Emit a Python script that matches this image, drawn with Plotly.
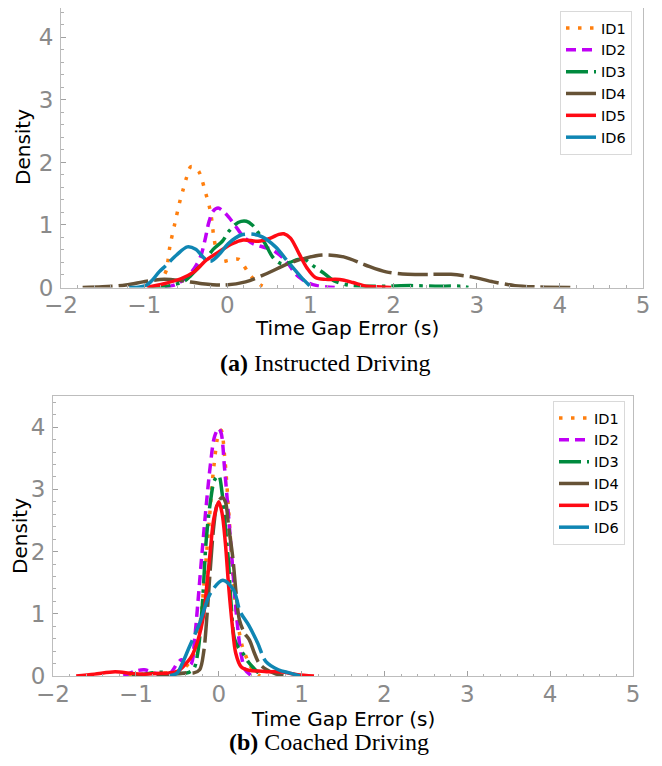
import plotly.graph_objects as go

# ---------------- data ----------------
x_tick_vals = [-2, -1, 0, 1, 2, 3, 4, 5]
y_tick_vals = [0, 1, 2, 3, 4]
series_names = ["ID1", "ID2", "ID3", "ID4", "ID5", "ID6"]
panel_captions = ["<b>(a)</b> Instructed Driving", "<b>(b)</b> Coached Driving"]
x_label = "Time Gap Error (s)"
y_label = "Density"

# (a) Instructed driving  -- KDE curves
inst_id1_x = [-0.75, -0.73, -0.69, -0.63, -0.57, -0.53, -0.49, -0.44, -0.39, -0.34, -0.30, -0.26, -0.22, -0.19, -0.16, -0.12, -0.06, 0.0, 0.06, 0.14, 0.20, 0.26, 0.32, 0.40, 0.46]
inst_id1_y = [0.22, 0.29, 0.66, 1.03, 1.38, 1.57, 1.76, 1.93, 1.92, 1.85, 1.70, 1.51, 1.32, 1.11, 0.79, 0.55, 0.42, 0.43, 0.45, 0.45, 0.35, 0.22, 0.13, 0.04, 0.0]
inst_id2_x = [-0.75, -0.62, -0.50, -0.40, -0.32, -0.27, -0.22, -0.17, -0.11, -0.05, 0.02, 0.10, 0.17, 0.24, 0.31, 0.38, 0.45, 0.52, 0.60, 0.68, 0.75, 0.82, 0.90, 0.98, 1.08, 1.20, 1.32]
inst_id2_y = [0.0, 0.05, 0.15, 0.30, 0.50, 0.75, 1.05, 1.22, 1.27, 1.22, 1.12, 0.98, 0.85, 0.76, 0.70, 0.67, 0.64, 0.62, 0.55, 0.46, 0.35, 0.22, 0.13, 0.07, 0.03, 0.01, 0.0]
inst_id3_x = [-0.95, -0.80, -0.65, -0.52, -0.44, -0.36, -0.27, -0.17, -0.06, 0.02, 0.13, 0.23, 0.30, 0.36, 0.46, 0.55, 0.65, 0.75, 0.85, 0.93, 1.03, 1.15, 1.28, 1.45, 1.66, 1.90, 2.20, 2.50, 2.80, 2.90]
inst_id3_y = [0.0, 0.01, 0.04, 0.10, 0.19, 0.30, 0.43, 0.61, 0.74, 0.90, 1.04, 1.06, 1.00, 0.90, 0.69, 0.48, 0.38, 0.40, 0.45, 0.45, 0.35, 0.24, 0.11, 0.04, 0.02, 0.02, 0.03, 0.02, 0.02, 0.0]
inst_id4_x = [-1.74, -1.50, -1.22, -0.97, -0.76, -0.56, -0.30, -0.04, 0.22, 0.47, 0.73, 0.94, 1.14, 1.40, 1.66, 1.91, 2.17, 2.43, 2.69, 2.94, 3.20, 3.46, 3.72, 4.18]
inst_id4_y = [0.0, 0.01, 0.04, 0.10, 0.13, 0.11, 0.06, 0.04, 0.09, 0.22, 0.38, 0.47, 0.52, 0.49, 0.36, 0.25, 0.21, 0.21, 0.21, 0.17, 0.09, 0.03, 0.01, 0.0]
inst_id5_x = [-0.97, -0.76, -0.56, -0.40, -0.25, -0.09, 0.06, 0.19, 0.37, 0.52, 0.62, 0.68, 0.76, 0.86, 0.96, 1.06, 1.18, 1.30, 1.39, 1.51, 1.67, 1.80, 1.97]
inst_id5_y = [0.0, 0.06, 0.14, 0.25, 0.44, 0.58, 0.70, 0.76, 0.74, 0.79, 0.85, 0.86, 0.79, 0.55, 0.31, 0.16, 0.13, 0.13, 0.12, 0.08, 0.02, 0.01, 0.0]
inst_id6_x = [-1.18, -1.05, -0.97, -0.90, -0.82, -0.74, -0.61, -0.48, -0.38, -0.27, -0.20, -0.09, 0.01, 0.165, 0.32, 0.42, 0.58, 0.73, 0.885, 0.99]
inst_id6_y = [0.0, 0.01, 0.04, 0.12, 0.25, 0.35, 0.52, 0.65, 0.61, 0.46, 0.42, 0.54, 0.70, 0.84, 0.85, 0.81, 0.65, 0.41, 0.17, 0.03]

# (b) Coached driving
coach_id1_x = [-1.10, -0.90, -0.75, -0.60, -0.45, -0.35, -0.28, -0.22, -0.17, -0.12, -0.06, 0.0, 0.03, 0.07, 0.12, 0.17, 0.22, 0.28, 0.35, 0.42, 0.50]
coach_id1_y = [0.0, 0.03, 0.05, 0.05, 0.10, 0.22, 0.45, 0.90, 1.60, 2.40, 3.35, 3.90, 3.95, 3.55, 2.65, 1.65, 0.95, 0.50, 0.25, 0.08, 0.0]
coach_id2_x = [-1.15, -1.00, -0.90, -0.75, -0.60, -0.50, -0.45, -0.38, -0.33, -0.29, -0.25, -0.20, -0.15, -0.10, -0.05, 0.0, 0.03, 0.07, 0.12, 0.17, 0.22, 0.27, 0.32, 0.40]
coach_id2_y = [0.0, 0.08, 0.10, 0.04, 0.03, 0.20, 0.26, 0.15, 0.20, 0.60, 1.20, 2.00, 2.75, 3.40, 3.85, 3.98, 3.90, 3.35, 2.55, 1.70, 0.90, 0.35, 0.10, 0.0]
coach_id3_x = [-1.05, -0.90, -0.70, -0.50, -0.38, -0.30, -0.25, -0.20, -0.15, -0.10, -0.05, 0.0, 0.04, 0.08, 0.12, 0.15, 0.19, 0.24, 0.30, 0.36, 0.42, 0.48]
coach_id3_y = [0.0, 0.03, 0.06, 0.04, 0.05, 0.12, 0.40, 1.10, 2.20, 2.80, 3.15, 3.22, 2.95, 2.40, 1.80, 1.15, 0.60, 0.45, 0.35, 0.22, 0.13, 0.05]
coach_id4_x = [-0.75, -0.55, -0.40, -0.30, -0.23, -0.18, -0.14, -0.10, -0.06, -0.02, 0.04, 0.08, 0.12, 0.17, 0.21, 0.25, 0.31, 0.37, 0.43, 0.49, 0.58, 0.68, 0.78]
coach_id4_y = [0.0, 0.03, 0.05, 0.05, 0.10, 0.40, 1.00, 1.75, 2.40, 2.75, 2.87, 2.80, 2.40, 1.90, 1.33, 0.90, 0.69, 0.58, 0.37, 0.20, 0.10, 0.04, 0.0]
coach_id5_x = [-1.72, -1.50, -1.25, -1.05, -0.90, -0.75, -0.60, -0.50, -0.43, -0.33, -0.25, -0.185, -0.145, -0.10, -0.06, 0.0, 0.04, 0.08, 0.12, 0.165, 0.205, 0.27, 0.37, 0.48, 0.58, 0.70, 0.80, 0.95, 1.15]
coach_id5_y = [0.0, 0.03, 0.07, 0.04, 0.03, 0.04, 0.05, 0.07, 0.15, 0.31, 0.58, 0.96, 1.44, 2.03, 2.52, 2.80, 2.62, 2.14, 1.44, 0.80, 0.37, 0.15, 0.09, 0.08, 0.07, 0.07, 0.06, 0.02, 0.0]
coach_id6_x = [-0.60, -0.50, -0.44, -0.36, -0.23, -0.10, 0.05, 0.18, 0.26, 0.36, 0.47, 0.57, 0.72, 0.85, 0.98]
coach_id6_y = [0.0, 0.05, 0.20, 0.45, 0.85, 1.33, 1.54, 1.38, 1.03, 0.82, 0.53, 0.23, 0.10, 0.05, 0.0]

instructed = [(inst_id1_x, inst_id1_y), (inst_id2_x, inst_id2_y), (inst_id3_x, inst_id3_y),
              (inst_id4_x, inst_id4_y), (inst_id5_x, inst_id5_y), (inst_id6_x, inst_id6_y)]
coached = [(coach_id1_x, coach_id1_y), (coach_id2_x, coach_id2_y), (coach_id3_x, coach_id3_y),
           (coach_id4_x, coach_id4_y), (coach_id5_x, coach_id5_y), (coach_id6_x, coach_id6_y)]

# ---------------- styles ----------------
line_styles = {
    "ID1": dict(color="#ff7f0e", dash="3.5px,8.5px", width=3.5),
    "ID2": dict(color="#c000f5", dash="10px,6px", width=3.5),
    "ID3": dict(color="#008a3e", dash="22px,6px,3.5px,6px", width=3.5),
    "ID4": dict(color="#665236", dash="30px,6px", width=3.5),
    "ID5": dict(color="#ff0a14", dash="solid", width=3.5),
    "ID6": dict(color="#0f86b3", dash="45px,6px", width=3.5),
}

fig = go.Figure()
for panel, (xa, ya, lg) in zip([instructed, coached], [("x", "y", "legend"), ("x2", "y2", "legend2")]):
    for name, (xs, ys) in zip(series_names, panel):
        st = line_styles[name]
        fig.add_trace(go.Scatter(
            x=xs, y=ys, mode="lines", name=name, xaxis=xa, yaxis=ya, legend=lg,
            line=dict(color=st["color"], dash=st["dash"], width=st["width"], shape="spline", smoothing=0.9),
            hoverinfo="skip"))

tick_font = dict(family="DejaVu Sans", size=23, color="#8a8a8a")
axis_common = dict(showline=True, linecolor="#bdbdbd", linewidth=1, mirror=True,
                   showgrid=False, zeroline=False, ticks="inside", ticklen=5,
                   tickcolor="#a0a0a0", tickfont=tick_font, automargin=False,
                   minor=dict(ticks="inside", ticklen=2.5, dtick=0.2, tickcolor="#b0b0b0"))

# the page body adds an 8 px margin; positions below are page pixels of the reference
OFF = 8
W, H = 662 - 2 * OFF, 766 - 2 * OFF
def px(v): return (v - OFF) / W
def py(v): return 1 - (v - OFF) / H

legend_common = dict(bgcolor="white", bordercolor="#d9d9d9", borderwidth=1,
                     font=dict(family="DejaVu Sans", size=14.5, color="black"))

fig.update_layout(
    width=W, height=H, margin=dict(l=0, r=0, t=0, b=0, autoexpand=False),
    paper_bgcolor="white", plot_bgcolor="white",
    xaxis=dict(domain=[px(61), px(643)], anchor="y", range=[-2, 5], tickvals=x_tick_vals,
               ticklabelstandoff=-3, **axis_common),
    yaxis=dict(domain=[py(287.5), 1.0], anchor="x", range=[0, 4.47], tickvals=y_tick_vals,
               ticklabelstandoff=2, **axis_common),
    xaxis2=dict(domain=[px(53), px(633)], anchor="y2", range=[-2, 5], tickvals=x_tick_vals,
                ticklabelstandoff=-3, **axis_common),
    yaxis2=dict(domain=[py(676), py(396)], anchor="x2", range=[0, 4.5], tickvals=y_tick_vals,
                ticklabelstandoff=2, **axis_common),
    legend=dict(x=px(632), xanchor="right", y=py(11), yanchor="top", **legend_common),
    legend2=dict(x=px(625), xanchor="right", y=py(401), yanchor="top", **legend_common),
)

label_font = dict(family="DejaVu Sans", size=20, color="black")
cap_font = dict(family="Liberation Serif", size=24, color="black")
annots = [
    dict(text=x_label, x=px(347), y=py(328), font=label_font),
    dict(text=panel_captions[0], x=px(325), y=py(363), font=cap_font),
    dict(text=y_label, x=px(23), y=py(147), font=label_font, textangle=-90),
    dict(text=x_label, x=px(343), y=py(719), font=label_font),
    dict(text=panel_captions[1], x=px(329), y=py(742), font=cap_font),
    dict(text=y_label, x=px(20), y=py(536), font=label_font, textangle=-90),
]
for a in annots:
    fig.add_annotation(xref="paper", yref="paper", showarrow=False, xanchor="center", yanchor="middle", **a)

fig.write_html("out.html")
